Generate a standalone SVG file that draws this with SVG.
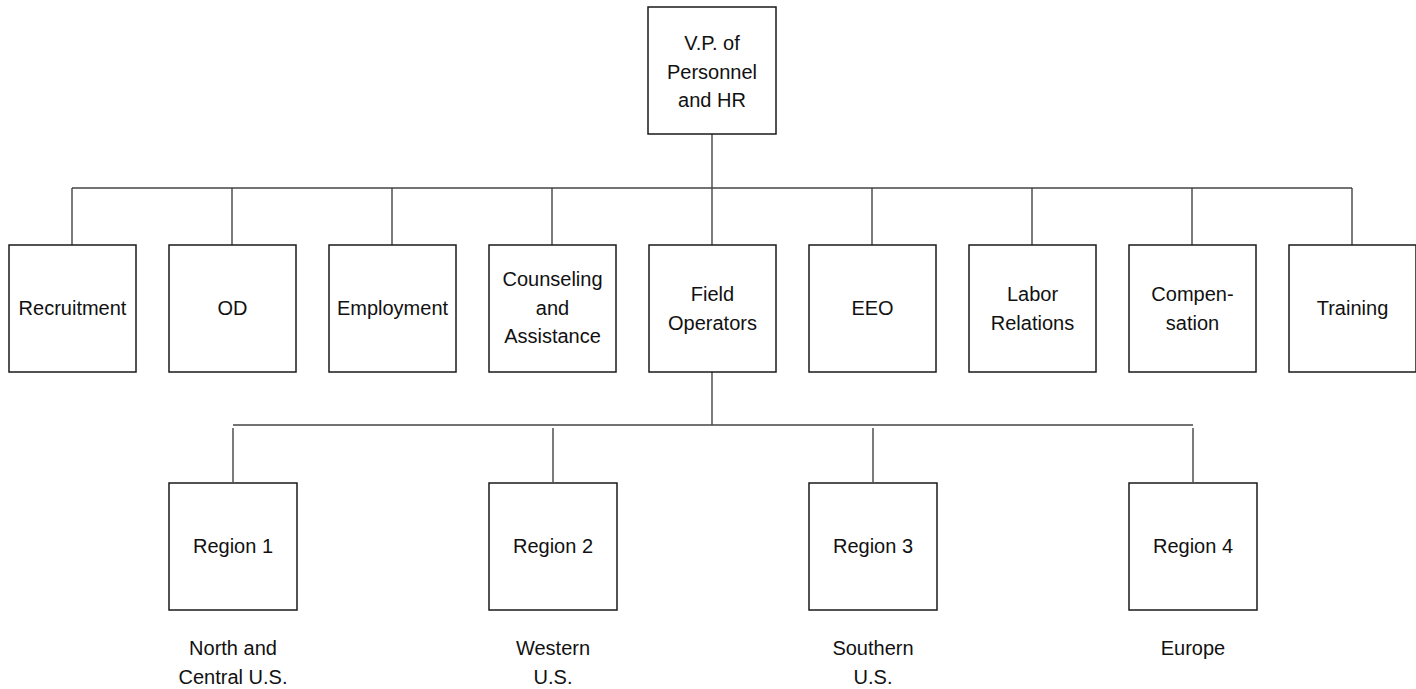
<svg xmlns="http://www.w3.org/2000/svg" width="1416" height="689" viewBox="0 0 1416 689">
<style>
.box{fill:#fff;stroke:#1a1a1a;stroke-width:1.5}
.ln{fill:none;stroke:#444;stroke-width:1.4}
text{font-family:"Liberation Sans",Arial,sans-serif;font-size:20px;fill:#111;text-anchor:middle}
</style>
<rect width="1416" height="689" fill="#fff"/>
<g id="connectors">
<path class="ln" d="M712 134V245"/>
<path class="ln" d="M72 188H1352"/>
<path class="ln" d="M72 188V245M232 188V245M392 188V245M552 188V245M872 188V245M1032 188V245M1192 188V245M1352 188V245"/>
<path class="ln" d="M712 372V425"/>
<path class="ln" d="M233 425H1193"/>
<path class="ln" d="M233 428V482M553 428V482M873 428V482M1193 428V482"/>
</g>
<g id="vp"><rect class="box" x="648" y="7" width="128" height="127"/><text x="712" y="50">V.P. of</text><text x="712" y="79">Personnel</text><text x="712" y="107">and HR</text></g>
<g id="recruitment"><rect class="box" x="9" y="245" width="127" height="127"/><text x="72.5" y="315">Recruitment</text></g>
<g id="od"><rect class="box" x="169" y="245" width="127" height="127"/><text x="232.5" y="315">OD</text></g>
<g id="employment"><rect class="box" x="329" y="245" width="127" height="127"/><text x="392.5" y="315">Employment</text></g>
<g id="counseling"><rect class="box" x="489" y="245" width="127" height="127"/><text x="552.5" y="286">Counseling</text><text x="552.5" y="315">and</text><text x="552.5" y="343">Assistance</text></g>
<g id="field"><rect class="box" x="649" y="245" width="127" height="127"/><text x="712.5" y="301">Field</text><text x="712.5" y="330">Operators</text></g>
<g id="eeo"><rect class="box" x="809" y="245" width="127" height="127"/><text x="872.5" y="315">EEO</text></g>
<g id="labor"><rect class="box" x="969" y="245" width="127" height="127"/><text x="1032.5" y="301">Labor</text><text x="1032.5" y="330">Relations</text></g>
<g id="compensation"><rect class="box" x="1129" y="245" width="127" height="127"/><text x="1192.5" y="301">Compen-</text><text x="1192.5" y="330">sation</text></g>
<g id="training"><rect class="box" x="1289" y="245" width="127" height="127"/><text x="1352.5" y="315">Training</text></g>
<g id="region1"><rect class="box" x="169" y="483" width="128" height="127"/><text x="233" y="553">Region 1</text><text x="233" y="655">North and</text><text x="233" y="684">Central U.S.</text></g>
<g id="region2"><rect class="box" x="489" y="483" width="128" height="127"/><text x="553" y="553">Region 2</text><text x="553" y="655">Western</text><text x="553" y="684">U.S.</text></g>
<g id="region3"><rect class="box" x="809" y="483" width="128" height="127"/><text x="873" y="553">Region 3</text><text x="873" y="655">Southern</text><text x="873" y="684">U.S.</text></g>
<g id="region4"><rect class="box" x="1129" y="483" width="128" height="127"/><text x="1193" y="553">Region 4</text><text x="1193" y="655">Europe</text></g>
</svg>
